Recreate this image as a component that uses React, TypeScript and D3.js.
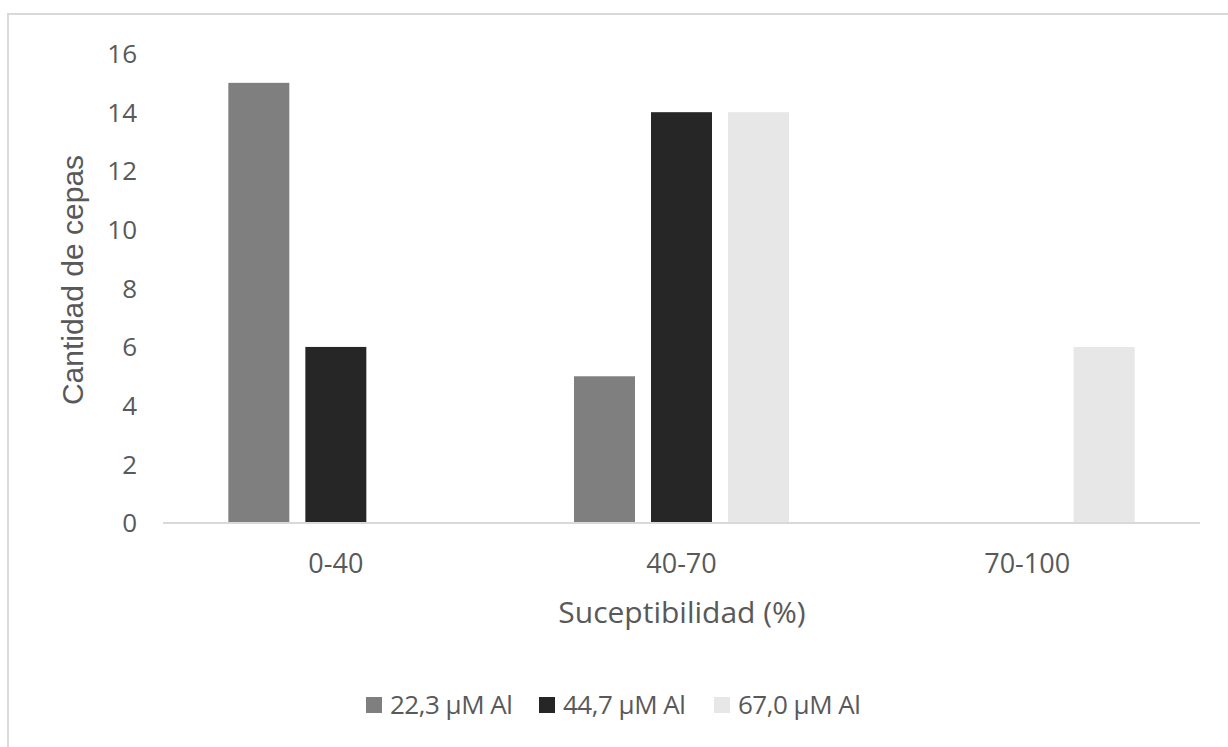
import React from "react";
import * as d3 from "d3";

// Susceptibility ranges and strain counts per aluminium concentration
const categories = ["0-40", "40-70", "70-100"];
const seriesNames = ["22,3 µM Al", "44,7 µM Al", "67,0 µM Al"];
const values22 = [15, 5, 0];
const values44 = [6, 14, 0];
const values67 = [0, 14, 6];
const yTicks = [0, 2, 4, 6, 8, 10, 12, 14, 16];
const colors = ["#7f7f7f", "#262626", "#e7e7e7"];

const W = 1228;
const H = 747;
const textColor = "#595959";
const sans = "'Open Sans', sans-serif";
const arial = "'Liberation Sans', Arial, sans-serif";

export default function App() {
  const series = [values22, values44, values67];

  const x = d3.scaleBand<string>().domain(categories).range([163, 1200]);
  const groupWidth = 215;
  const xs = d3
    .scaleBand<number>()
    .domain([0, 1, 2])
    .range([0, groupWidth])
    .paddingInner(0.208);
  const y = d3.scaleLinear().domain([0, 16]).range([523, 53.5]);

  const legendX = [366, 539, 714];

  return (
    <svg
      width={W}
      height={H}
      style={{ position: "fixed", left: 0, top: 0, background: "#fff" }}
    >
      <rect x={0} y={0} width={W} height={H} fill="#fff" />
      {/* chart frame */}
      <rect
        x={8}
        y={14}
        width={1400}
        height={900}
        fill="none"
        stroke="#d9d9d9"
        strokeWidth={2}
      />

      {/* bars */}
      {categories.map((c, ci) => {
        const start = (x(c) ?? 0) + x.bandwidth() / 2 - groupWidth / 2;
        return series.map((vals, si) =>
          vals[ci] > 0 ? (
            <rect
              key={`${c}-${si}`}
              x={start + (xs(si) ?? 0)}
              y={y(vals[ci])}
              width={xs.bandwidth()}
              height={y(0) - y(vals[ci])}
              fill={colors[si]}
            />
          ) : null
        );
      })}

      {/* category axis line */}
      <line
        x1={x.range()[0]}
        x2={x.range()[1]}
        y1={y(0)}
        y2={y(0)}
        stroke="#d9d9d9"
        strokeWidth={2}
      />

      {/* value axis labels */}
      {yTicks.map((t) => (
        <text
          key={t}
          x={137}
          y={y(t)}
          dy="0.36em"
          textAnchor="end"
          fontFamily={sans}
          fontSize={26}
          fill={textColor}
        >
          {t}
        </text>
      ))}

      {/* category labels */}
      {categories.map((c) => (
        <text
          key={c}
          x={(x(c) ?? 0) + x.bandwidth() / 2}
          y={573}
          textAnchor="middle"
          fontFamily={sans}
          fontSize={27}
          fill={textColor}
        >
          {c}
        </text>
      ))}

      {/* axis titles */}
      <text
        x={682}
        y={623}
        textAnchor="middle"
        fontFamily={sans}
        fontSize={30}
        fill={textColor}
      >
        Suceptibilidad (%)
      </text>
      <text
        transform="translate(83,280) rotate(-90)"
        textAnchor="middle"
        fontFamily={arial}
        fontSize={30}
        fill={textColor}
      >
        Cantidad de cepas
      </text>

      {/* legend */}
      {seriesNames.map((name, i) => (
        <g key={name}>
          <rect x={legendX[i]} y={697} width={16} height={16} fill={colors[i]} />
          <text
            x={legendX[i] + 24}
            y={714}
            fontFamily={sans}
            fontSize={26}
            letterSpacing={-0.5}
            fill={textColor}
          >
            {name}
          </text>
        </g>
      ))}
    </svg>
  );
}
